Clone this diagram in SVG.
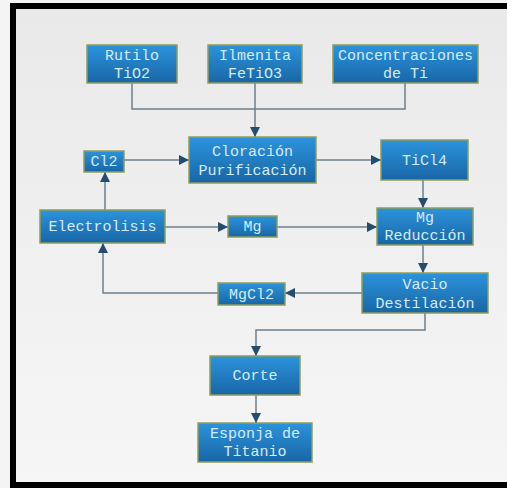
<svg xmlns="http://www.w3.org/2000/svg" width="507" height="488" viewBox="0 0 507 488">
<defs>
<linearGradient id="bg" x1="0" y1="0" x2="0" y2="1">
<stop offset="0" stop-color="#e9e9e9"/>
<stop offset="1" stop-color="#f6f6f6"/>
</linearGradient>
<linearGradient id="box" x1="0" y1="0" x2="0" y2="1">
<stop offset="0" stop-color="#2c93dc"/>
<stop offset="1" stop-color="#1866a6"/>
</linearGradient>
<marker id="ah" viewBox="0 0 10 10" refX="10" refY="5" markerWidth="10" markerHeight="10" markerUnits="userSpaceOnUse" orient="auto">
<path d="M0,0 L10,5 L0,10 z" fill="#254c6e"/>
</marker>
<style>
.n rect{fill:url(#box);stroke:#8f9e58;stroke-width:1.5}
.n text{font-family:"Liberation Mono","DejaVu Sans Mono",monospace;font-size:15px;fill:#d4ecfb;text-anchor:middle}
.c path{fill:none;stroke:#6c7f8d;stroke-width:1.5}
.c .a{marker-end:url(#ah)}
</style>
</defs>
<rect x="0" y="0" width="507" height="488" fill="#f4f4f4"/>
<rect x="13" y="6" width="510" height="479" fill="url(#bg)" stroke="#000" stroke-width="6"/>
<g class="c">
<path d="M132,83 V109 H405 V83"/>
<path class="a" d="M255,83 V137"/>
<path class="a" d="M124,160 H189"/>
<path class="a" d="M316,160 H381"/>
<path class="a" d="M105,210 V172"/>
<path class="a" d="M165,227 H228"/>
<path class="a" d="M277,227 H377"/>
<path class="a" d="M423,180 V208"/>
<path class="a" d="M423,245 V273"/>
<path class="a" d="M362,293 H285"/>
<path class="a" d="M218,293 H103 V243"/>
<path class="a" d="M425,313 V330 H256 V356"/>
<path class="a" d="M256,395 V423"/>
</g>
<g id="rutilo" class="n"><rect x="87" y="45" width="90" height="38"/><text x="132" y="60">Rutilo</text><text x="132" y="78">TiO2</text></g>
<g id="ilmenita" class="n"><rect x="208" y="45" width="94" height="38"/><text x="255" y="60">Ilmenita</text><text x="255" y="78">FeTiO3</text></g>
<g id="concentraciones" class="n"><rect x="333" y="45" width="145" height="38"/><text x="405.5" y="60">Concentraciones</text><text x="405.5" y="78">de Ti</text></g>
<g id="cl2" class="n"><rect x="84" y="151" width="40" height="21"/><text x="104" y="166">Cl2</text></g>
<g id="cloracion" class="n"><rect x="189" y="137" width="127" height="46"/><text x="252.5" y="156">Cloración</text><text x="252.5" y="175">Purificación</text></g>
<g id="ticl4" class="n"><rect x="381" y="140" width="87" height="40"/><text x="424.5" y="165">TiCl4</text></g>
<g id="electrolisis" class="n"><rect x="40" y="210" width="125" height="33"/><text x="102.5" y="231">Electrolisis</text></g>
<g id="mg" class="n"><rect x="228" y="216" width="49" height="21"/><text x="252.5" y="231">Mg</text></g>
<g id="reduccion" class="n"><rect x="377" y="208" width="96" height="37"/><text x="425" y="222">Mg</text><text x="425" y="240">Reducción</text></g>
<g id="vacio" class="n"><rect x="362" y="273" width="126" height="40"/><text x="425" y="289">Vacio</text><text x="425" y="308">Destilación</text></g>
<g id="mgcl2" class="n"><rect x="218" y="283" width="67" height="22"/><text x="251.5" y="299">MgCl2</text></g>
<g id="corte" class="n"><rect x="210" y="356" width="90" height="39"/><text x="255" y="380">Corte</text></g>
<g id="esponja" class="n"><rect x="198" y="423" width="114" height="39"/><text x="255" y="438">Esponja de</text><text x="255" y="456">Titanio</text></g>
</svg>
